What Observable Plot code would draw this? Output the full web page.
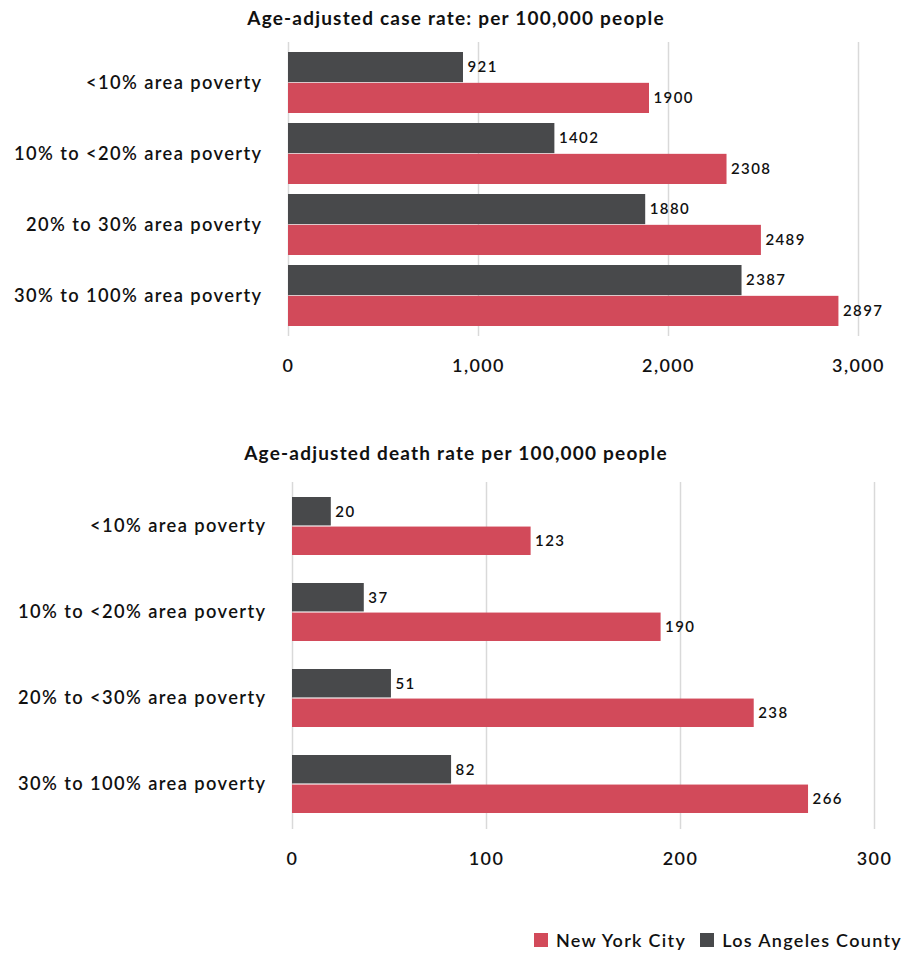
<!DOCTYPE html>
<html><head><meta charset="utf-8">
<script src="https://cdn.jsdelivr.net/npm/d3@7"></script>
<script src="https://cdn.jsdelivr.net/npm/@observablehq/plot@0.6"></script>
<style>
body{margin:0;background:#fff;font-family:Lato,"Noto Sans",sans-serif;color:#111;}
#wrap{position:relative;width:904px;height:954px;overflow:hidden;}
.title{position:absolute;left:0;width:912px;text-align:center;font-size:19px;font-weight:700;letter-spacing:1.2px;white-space:nowrap;line-height:20px;z-index:2;}
.chart{position:absolute;left:0;z-index:1;}
#legend{position:absolute;right:2px;top:930px;display:flex;align-items:center;font-size:18px;font-weight:600;letter-spacing:1.3px;white-space:nowrap;line-height:20px;z-index:2;}
#legend .sw{display:inline-block;width:14px;height:14px;margin-right:8px;}
#legend .item{display:flex;align-items:center;margin-left:14px;}
</style></head><body>
<div id="wrap">
  <div class="chart" id="c1" style="top:0px"></div>
  <div class="chart" id="c2" style="top:440px"></div>
  <div class="title" id="t1" style="top:8px"></div>
  <div class="title" id="t2" style="top:443px"></div>
  <div id="legend"></div>
</div>
<script>
const caseTitle = "Age-adjusted case rate: per 100,000 people";
const deathTitle = "Age-adjusted death rate per 100,000 people";
const caseCategories = ["<10% area poverty", "10% to <20% area poverty", "20% to 30% area poverty", "30% to 100% area poverty"];
const deathCategories = ["<10% area poverty", "10% to <20% area poverty", "20% to <30% area poverty", "30% to 100% area poverty"];
const seriesNames = ["New York City", "Los Angeles County"];
const nycCase = [1900, 2308, 2489, 2897];
const laCase = [921, 1402, 1880, 2387];
const nycDeath = [123, 190, 238, 266];
const laDeath = [20, 37, 51, 82];
const caseTicks = [0, 1000, 2000, 3000];
const deathTicks = [0, 100, 200, 300];

const RED = "#d24a5a";
const DARK = "#48494b";

function chart({cats, nyc, la, ticks, domain, height, mt, mb, ml, mr, pi, po, tickFmt}) {
  const rows = (vals) => cats.map((c, i) => ({cat: c, v: vals[i]}));
  const step = (height - mt - mb) / (cats.length - pi + 2 * po);
  const half = step * (1 - pi) / 2;
  return Plot.plot({
    width: 904, height,
    marginTop: mt, marginBottom: mb, marginLeft: ml, marginRight: mr,
    style: {fontFamily: "Lato, 'Noto Sans', sans-serif", fontSize: "18px", color: "#111", background: "#fff", letterSpacing: "1.4px"},
    x: {domain, ticks},
    y: {type: "band", domain: cats, paddingInner: pi, paddingOuter: po},
    marks: [
      Plot.gridX(ticks, {stroke: "#d9d9d9", strokeOpacity: 1, strokeWidth: 1.5}),
      Plot.barX(rows(la), {x: "v", y: "cat", fill: DARK, insetBottom: half}),
      Plot.barX(rows(nyc), {x: "v", y: "cat", fill: RED, insetTop: half}),
      Plot.text(rows(la), {x: "v", y: "cat", text: d => String(d.v), dy: -half / 2, dx: 4, textAnchor: "start", fontSize: 15, fontWeight: 600, fill: "#111"}),
      Plot.text(rows(nyc), {x: "v", y: "cat", text: d => String(d.v), dy: half / 2, dx: 4, textAnchor: "start", fontSize: 15, fontWeight: 600, fill: "#111"}),
      Plot.axisX({ticks, tickSize: 0, tickPadding: 23, tickFormat: tickFmt, fontSize: 18, fontWeight: 600, label: null}),
      Plot.axisY({tickSize: 0, tickPadding: 26, fontSize: 18.3, fontWeight: 600, label: null})
    ]
  });
}

document.getElementById("t1").textContent = caseTitle;
document.getElementById("t2").textContent = deathTitle;

document.getElementById("c1").appendChild(chart({
  cats: caseCategories, nyc: nycCase, la: laCase, ticks: caseTicks, domain: [0, 3000],
  height: 400, mt: 42, mb: 64, ml: 288, mr: 46, pi: 0.14, po: 0.12, tickFmt: d3.format(",")
}));
document.getElementById("c2").appendChild(chart({
  cats: deathCategories, nyc: nycDeath, la: laDeath, ticks: deathTicks, domain: [0, 300],
  height: 440, mt: 42, mb: 51, ml: 292, mr: 30, pi: 0.32, po: 0.156, tickFmt: d3.format(",")
}));

const legend = document.getElementById("legend");
const legendColors = [RED, DARK];
seriesNames.forEach((name, i) => {
  const item = document.createElement("span");
  item.className = "item";
  const sw = document.createElement("span");
  sw.className = "sw";
  sw.style.background = legendColors[i];
  item.appendChild(sw);
  item.appendChild(document.createTextNode(name));
  legend.appendChild(item);
});
</script>
</body></html>
